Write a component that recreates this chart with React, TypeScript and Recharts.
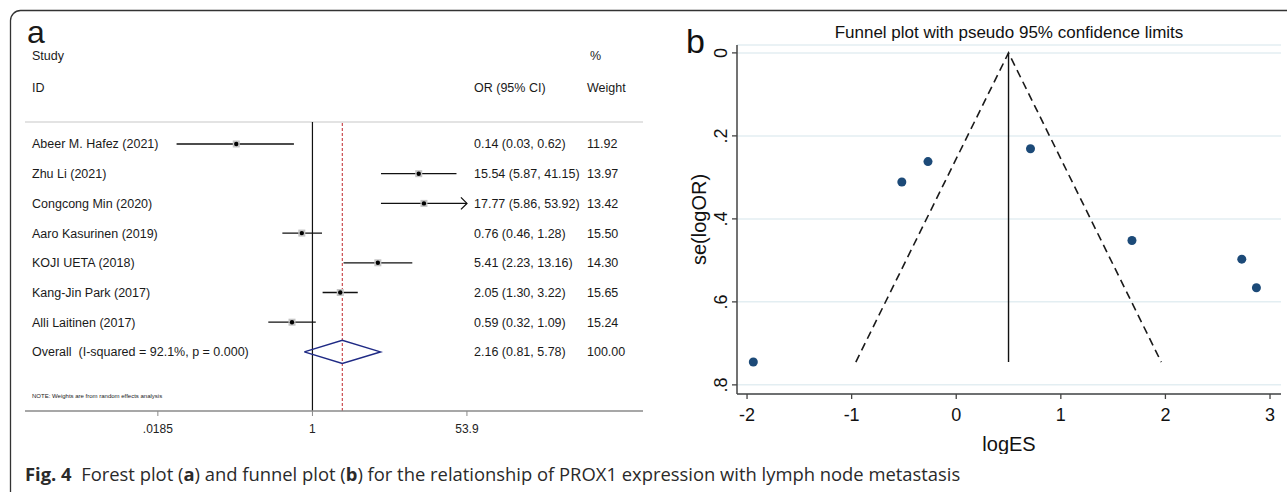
import React from "react";
import {
  CartesianGrid,
  ErrorBar,
  Label,
  ReferenceLine,
  Scatter,
  ScatterChart,
  XAxis,
  YAxis
} from "recharts";

// ---- forest plot (a) ----
const studies = [
  "Abeer M. Hafez (2021)",
  "Zhu Li (2021)",
  "Congcong Min (2020)",
  "Aaro Kasurinen (2019)",
  "KOJI UETA (2018)",
  "Kang-Jin Park (2017)",
  "Alli Laitinen (2017)"
];
const oddsRatios = [0.14, 15.54, 17.77, 0.76, 5.41, 2.05, 0.59];
const ciLow = [0.03, 5.87, 5.86, 0.46, 2.23, 1.3, 0.32];
const ciHigh = [0.62, 41.15, 53.92, 1.28, 13.16, 3.22, 1.09];
const weights = [11.92, 13.97, 13.42, 15.5, 14.3, 15.65, 15.24];
const overallLabel = "Overall\u00a0\u00a0(I-squared = 92.1%, p = 0.000)";
const overallOR = 2.16;
const overallLow = 0.81;
const overallHigh = 5.78;
const overallWeight = 100;
const forestTicks = [0.0185, 1, 53.9];
const forestTickLabels = [".0185", "1", "53.9"];

// ---- funnel plot (b) ----
const logES = [-1.94, 2.73, 2.87, -0.27, 1.68, 0.71, -0.52];
const seLogOR = [0.745, 0.497, 0.566, 0.262, 0.452, 0.231, 0.311];
const pooledLogES = 0.5;
const funnelLimitX = [-0.96, 0.5, 1.96];
const funnelLimitSe = [0.745, 0, 0.745];
const funnelXTicks = [-2, -1, 0, 1, 2, 3];
const funnelYTicks = [0, 0.2, 0.4, 0.6, 0.8];

const axisMax = forestTicks[forestTicks.length - 1];
const overallRow = studies.length;

function fmt2(v: number) {
  return v.toFixed(2);
}

const forestRows = studies.map((name, i) => ({
  name,
  row: i,
  or: oddsRatios[i],
  err: [oddsRatios[i] - ciLow[i], Math.min(ciHigh[i], axisMax) - oddsRatios[i]]
}));
const clippedRows = forestRows.filter((r, i) => ciHigh[i] > axisMax).map((r) => ({ or: axisMax, row: r.row }));
const textRows = [
  ...studies.map((name, i) => ({
    or: 1,
    row: i,
    name,
    ci: `${fmt2(oddsRatios[i])} (${fmt2(ciLow[i])}, ${fmt2(ciHigh[i])})`,
    w: fmt2(weights[i])
  })),
  {
    or: 1,
    row: overallRow,
    name: overallLabel,
    ci: `${fmt2(overallOR)} (${fmt2(overallLow)}, ${fmt2(overallHigh)})`,
    w: fmt2(overallWeight)
  }
];
const diamondHalf = 0.39;
const diamond = [
  { or: overallLow, row: overallRow },
  { or: overallOR, row: overallRow - diamondHalf },
  { or: overallHigh, row: overallRow },
  { or: overallOR, row: overallRow + diamondHalf },
  { or: overallLow, row: overallRow }
];

const funnelPoints = logES.map((x, i) => ({ x, y: seLogOR[i] }));
const funnelLimits = funnelLimitX.map((x, i) => ({ x, y: funnelLimitSe[i] }));

const sans = "'Liberation Sans', Arial, sans-serif";

function RowText(props: any) {
  const { cy, payload } = props;
  return (
    <g fontSize={12.5} fill="#1a1a1a" fontFamily={sans}>
      <text x={32} y={cy} dy="0.36em">{payload.name}</text>
      <text x={474} y={cy} dy="0.36em">{payload.ci}</text>
      <text x={587} y={cy} dy="0.36em">{payload.w}</text>
    </g>
  );
}

function StudyMark(props: any) {
  const { cx, cy } = props;
  return (
    <g>
      <rect x={cx - 3.5} y={cy - 3.5} width={7} height={7} fill="#c4c4c4" />
      <circle cx={cx} cy={cy} r={2.2} fill="#000" />
    </g>
  );
}

function ArrowMark(props: any) {
  const { cx, cy } = props;
  return <path d={`M${cx - 6},${cy - 6} L${cx},${cy} L${cx - 6},${cy + 6}`} fill="none" stroke="#111" strokeWidth={1.3} />;
}

function NoMark() {
  return <g />;
}

function SeTick(props: any) {
  const { x, y, payload } = props;
  const v = payload.value as number;
  const label = v === 0 ? "0" : v.toFixed(1).replace(/^0/, "");
  const tx = x - 3;
  return (
    <text x={tx} y={y} transform={`rotate(-90 ${tx} ${y})`} textAnchor="middle" fontSize={18} fill="#111" fontFamily={sans}>
      {label}
    </text>
  );
}

function ForestPlot() {
  return (
    <ScatterChart width={660} height={440} margin={{ top: 122, right: 17, bottom: 0, left: 25 }} style={{ fontFamily: sans }}>
      <XAxis
        type="number"
        dataKey="or"
        scale="log"
        domain={[0.0006, 5070]}
        allowDataOverflow
        ticks={forestTicks}
        tickFormatter={(v: number) => forestTickLabels[forestTicks.indexOf(v)] ?? String(v)}
        height={29}
        tickSize={5}
        tickMargin={8}
        interval={0}
        axisLine={{ stroke: "#8a8a8a", strokeWidth: 1.5 }}
        tickLine={{ stroke: "#8a8a8a" }}
        tick={{ fontSize: 12, fill: "#222" }}
      />
      <YAxis type="number" dataKey="row" domain={[-0.74, 8.99]} reversed hide />
      <ReferenceLine y={-0.74} stroke="#c8c8c8" strokeWidth={1.2} />
      <ReferenceLine x={1} stroke="#111" strokeWidth={1.2} />
      <ReferenceLine x={overallOR} stroke="#c0282d" strokeWidth={1} strokeDasharray="3 2" />
      <Scatter data={textRows} shape={RowText} isAnimationActive={false} />
      <Scatter data={forestRows} shape={StudyMark} isAnimationActive={false}>
        <ErrorBar dataKey="err" direction="x" width={0} stroke="#111" strokeWidth={1.3} />
      </Scatter>
      <Scatter data={clippedRows} shape={ArrowMark} isAnimationActive={false} />
      <Scatter
        data={diamond}
        shape={NoMark}
        line={{ stroke: "#1f2a85", strokeWidth: 1.5 }}
        lineType="joint"
        isAnimationActive={false}
      />
    </ScatterChart>
  );
}

function FunnelPlot() {
  return (
    <ScatterChart width={627} height={454} margin={{ top: 45, right: 6, bottom: 0, left: 0 }} style={{ fontFamily: sans }}>
      <CartesianGrid vertical={false} stroke="#e3eef2" strokeWidth={1.5} />
      <XAxis
        type="number"
        dataKey="x"
        domain={[-2.096, 3.105]}
        ticks={funnelXTicks}
        interval={0}
        height={60}
        tickSize={5}
        tickMargin={9}
        axisLine={{ stroke: "#444", strokeWidth: 1.5 }}
        tickLine={{ stroke: "#444", strokeWidth: 1.3 }}
        tick={{ fontSize: 18, fill: "#111" }}
      >
        <Label value="logES" position="insideBottom" offset={3} fontSize={20} fill="#111" />
      </XAxis>
      <YAxis
        type="number"
        dataKey="y"
        domain={[-0.019, 0.822]}
        reversed
        ticks={funnelYTicks}
        interval={0}
        width={77}
        tickSize={5}
        axisLine={{ stroke: "#444", strokeWidth: 1.5 }}
        tickLine={{ stroke: "#444", strokeWidth: 1.3 }}
        tick={SeTick}
      >
        <Label value="se(logOR)" angle={-90} position="center" fontSize={20} fill="#111" />
      </YAxis>
      <ReferenceLine
        segment={[
          { x: pooledLogES, y: 0 },
          { x: pooledLogES, y: funnelLimitSe[0] }
        ]}
        stroke="#111"
        strokeWidth={1.4}
      />
      <Scatter
        data={funnelLimits}
        shape={NoMark}
        line={{ stroke: "#1a1a1a", strokeWidth: 1.6, strokeDasharray: "8 5" }}
        lineType="joint"
        isAnimationActive={false}
      />
      <Scatter
        data={funnelPoints}
        shape={(p: any) => <circle cx={p.cx} cy={p.cy} r={4.5} fill="#1c4a78" />}
        isAnimationActive={false}
      />
    </ScatterChart>
  );
}

export default function App() {
  return (
    <div style={{ position: "absolute", left: 0, top: 0, width: 1287, height: 492, background: "#fff", overflow: "hidden" }}>
      <div style={{ position: "absolute", left: 0, top: 0 }}>
        <ForestPlot />
      </div>
      <div style={{ position: "absolute", left: 660, top: 0 }}>
        <FunnelPlot />
      </div>
      <svg width={1287} height={492} style={{ position: "absolute", left: 0, top: 0, pointerEvents: "none" }}>
        <path d="M10.5,492 L10.5,20.5 A10,10 0 0 1 20.5,10.5 L1287,10.5" fill="none" stroke="#333" strokeWidth={1.3} />
        <g fontFamily={sans} fill="#1a1a1a">
          <text x={27} y={43} fontSize={32}>a</text>
          <text x={32} y={60} fontSize={12.5}>Study</text>
          <text x={32} y={92} fontSize={12.5}>ID</text>
          <text x={590} y={60} fontSize={12.5}>%</text>
          <text x={474} y={92} fontSize={12.5}>OR (95% CI)</text>
          <text x={587} y={92} fontSize={12.5}>Weight</text>
          <text x={32} y={398} fontSize={6}>NOTE: Weights are from random effects analysis</text>
          <text x={686} y={53} fontSize={34} fill="#111">b</text>
          <text x={1009} y={38} fontSize={17} textAnchor="middle" fill="#111">Funnel plot with pseudo 95% confidence limits</text>
        </g>
        <text x={25} y={481} fontFamily="'Open Sans', 'Noto Sans', sans-serif" fontSize={18.4} fill="#2a2a2a">
          <tspan fontWeight={700}>Fig. 4</tspan>
          <tspan>{"\u00a0\u00a0Forest plot ("}</tspan>
          <tspan fontWeight={700}>a</tspan>
          <tspan>{") and funnel plot ("}</tspan>
          <tspan fontWeight={700}>b</tspan>
          <tspan>{") for the relationship of PROX1 expression with lymph node metastasis"}</tspan>
        </text>
      </svg>
    </div>
  );
}
